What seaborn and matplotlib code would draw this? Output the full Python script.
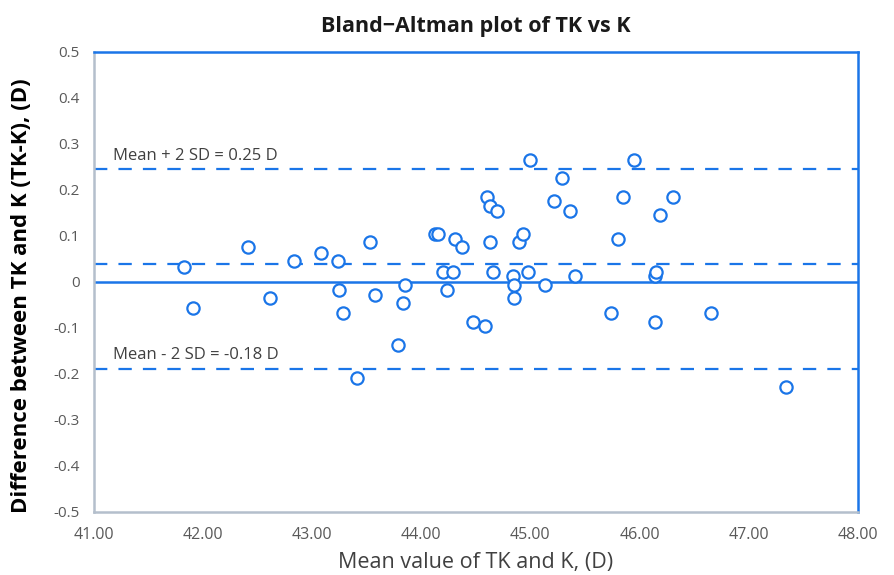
import matplotlib
matplotlib.use("Agg")
import matplotlib.pyplot as plt
import seaborn as sns
import pandas as pd

mean_values = [41.83, 41.91, 42.41, 42.62, 42.84, 43.08, 43.24, 43.25, 43.28, 43.53,
               43.58, 43.41, 43.79, 43.83, 43.85, 44.13, 44.15, 44.20, 44.24, 44.29,
               44.31, 44.37, 44.47, 44.58, 44.60, 44.63, 44.69, 44.63, 44.66, 44.84,
               44.85, 44.85, 44.90, 44.93, 44.98, 45.00, 45.13, 45.22, 45.29, 45.36,
               45.41, 45.74, 45.80, 45.85, 45.95, 46.14, 46.14, 46.15, 46.19, 46.31,
               46.65, 47.34]
differences = [0.033, -0.056, 0.075, -0.036, 0.046, 0.062, 0.046, -0.017, -0.067, 0.086,
               -0.028, -0.209, -0.137, -0.045, -0.006, 0.103, 0.103, 0.022, -0.017, 0.022,
               0.092, 0.075, -0.087, -0.097, 0.184, 0.164, 0.153, 0.086, 0.022, 0.012,
               -0.006, -0.036, 0.086, 0.103, 0.022, 0.265, -0.006, 0.175, 0.225, 0.153,
               0.012, -0.067, 0.092, 0.184, 0.265, -0.087, 0.012, 0.022, 0.145, 0.184,
               -0.067, -0.228]

mean_diff = 0.038
upper_loa = 0.245
lower_loa = -0.189
upper_label = "Mean + 2 SD = 0.25 D"
lower_label = "Mean - 2 SD = -0.18 D"
x_ticks = [41, 42, 43, 44, 45, 46, 47, 48]
y_ticks = [0.5, 0.4, 0.3, 0.2, 0.1, 0, -0.1, -0.2, -0.3, -0.4, -0.5]

BLUE = "#1a75e8"
GRAY_TXT = "#595959"

sns.set_theme(style="white")
plt.rcParams["font.family"] = ["Open Sans", "DejaVu Sans"]

df = pd.DataFrame({"mean": mean_values, "diff": differences})

fig = plt.figure(figsize=(8.95, 5.75), dpi=100)
ax = fig.add_axes([0.1045, 0.1096, 0.8542, 0.8005])

ax.axhline(0, color=BLUE, lw=1.8, zorder=1)
for v in (mean_diff, upper_loa, lower_loa):
    ax.axhline(v, color=BLUE, lw=1.6, ls=(0, (6, 5)), zorder=1)

sns.scatterplot(data=df, x="mean", y="diff", ax=ax, s=78, marker="o",
                facecolor="white", edgecolor=BLUE, linewidth=1.6, zorder=3)

ax.set_xlim(41, 48)
ax.set_ylim(-0.5, 0.5)
ax.set_xticks(x_ticks)
ax.set_xticklabels([f"{t:.2f}" for t in x_ticks], fontsize=11.5, color=GRAY_TXT,
                   family=["Liberation Sans Narrow", "Open Sans", "DejaVu Sans"])
ax.set_yticks(y_ticks)
ax.set_yticklabels([("0" if t == 0 else f"{t:g}") for t in y_ticks], fontsize=11,
                   color=GRAY_TXT)
ax.tick_params(axis="x", length=0, pad=11)
ax.tick_params(axis="y", length=0, pad=10)

ax.text(41.18, upper_loa + 0.012, upper_label, fontsize=12, color="#404040",
        va="bottom", ha="left")
ax.text(41.18, lower_loa + 0.012, lower_label, fontsize=12, color="#404040",
        va="bottom", ha="left")

ax.set_xlabel("Mean value of TK and K, (D)", fontsize=15.5, color="#404040", labelpad=6)
ax.set_ylabel("Difference between TK and K (TK-K), (D)", fontsize=16,
              fontweight="bold", color="black")
ax.yaxis.set_label_coords(-0.08, 0.47)
ax.set_title("Bland\u2212Altman plot of TK vs K", fontsize=15.5, fontweight="bold",
             color="#1a1a1a", pad=14)

for side in ("top", "right"):
    ax.spines[side].set_color(BLUE)
    ax.spines[side].set_linewidth(1.8)
for side in ("left", "bottom"):
    ax.spines[side].set_color("#b4bfcc")
    ax.spines[side].set_linewidth(1.8)

fig.savefig("out.png", dpi=100)
